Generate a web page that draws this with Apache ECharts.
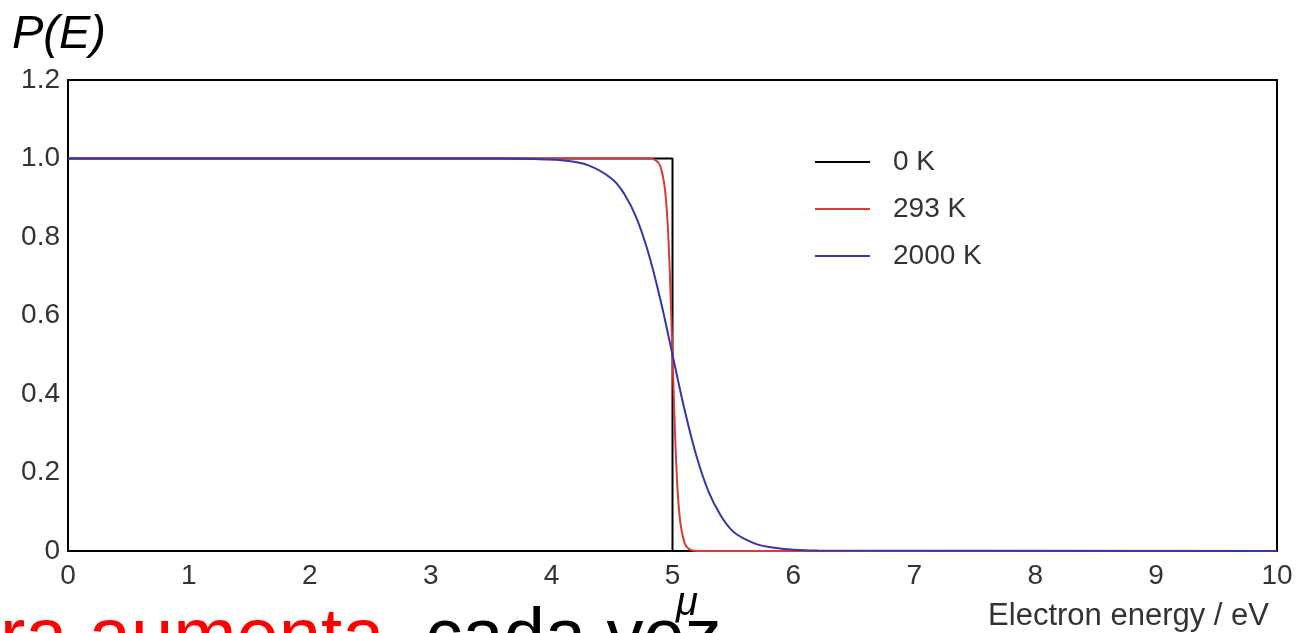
<!DOCTYPE html>
<html>
<head>
<meta charset="utf-8">
<script src="https://cdn.jsdelivr.net/npm/echarts@6/dist/echarts.min.js"></script>
<style>
  html, body { margin: 0; padding: 0; background: #fff; }
  #main { width: 1299px; height: 633px; }
</style>
</head>
<body>
<div id="main"></div>
<script>
// valores
var energy0K = [0, 5, 5, 10];
var p0K = [1, 1, 0, 0];

var energy293K = [0, 4.8, 4.86, 4.9, 4.94, 4.97, 5.0, 5.03, 5.06, 5.1, 5.14, 5.2, 10];
var p293K = [1, 1, 0.996, 0.98, 0.915, 0.77, 0.5, 0.23, 0.085, 0.02, 0.004, 0, 0];

var energy2000K = [0, 3.6, 3.9, 4.1, 4.3, 4.5, 4.6, 4.7, 4.8, 4.9, 5.0, 5.1, 5.2, 5.3, 5.4, 5.5, 5.6, 5.7, 5.8, 6.0, 6.2, 10];
var p2000K = [1, 1, 0.998, 0.995, 0.983, 0.948, 0.91, 0.85, 0.76, 0.64, 0.5, 0.36, 0.24, 0.15, 0.09, 0.05, 0.03, 0.017, 0.01, 0.003, 0.001, 0];

var seriesNames = ['0 K', '293 K', '2000 K'];
var xTicks = [0, 10, 1];
var yTicks = [0, 1.2, 0.2];

function pairs(xs, ys) {
    return xs.map(function (x, i) { return [x, ys[i]]; });
}

var font = "'Liberation Sans', Arial, sans-serif";
var myChart = echarts.init(document.getElementById('main'));

option = {
    backgroundColor: '#fff',
    animation: false,
    grid: {
        left: 68, right: 22, top: 80, bottom: 82,
        show: true, borderColor: '#000', borderWidth: 2
    },
    legend: {
        orient: 'vertical',
        left: 815, top: 148, padding: 0,
        icon: 'rect',
        itemWidth: 55, itemHeight: 2, itemGap: 19,
        data: seriesNames,
        textStyle: { fontFamily: font, fontSize: 28, color: '#333', padding: [0, 0, 0, 18] }
    },
    xAxis: {
        type: 'value',
        min: xTicks[0], max: xTicks[1], interval: xTicks[2],
        axisLine: { lineStyle: { color: '#000', width: 2 } },
        axisTick: { show: false },
        splitLine: { show: false },
        axisLabel: { fontFamily: font, fontSize: 28, color: '#333', margin: 11 }
    },
    yAxis: {
        type: 'value',
        min: yTicks[0], max: yTicks[1], interval: yTicks[2],
        axisLine: { show: true, lineStyle: { color: '#000', width: 2 } },
        axisTick: { show: false },
        splitLine: { show: false },
        axisLabel: {
            fontFamily: font, fontSize: 28, color: '#333', margin: 8,
            formatter: function (v) { return v === 0 ? '0' : v.toFixed(1); }
        }
    },
    series: [
        {
            name: seriesNames[0], type: 'line', symbol: 'none',
            lineStyle: { color: '#000', width: 2 }, itemStyle: { color: '#000' },
            data: pairs(energy0K, p0K)
        },
        {
            name: seriesNames[1], type: 'line', symbol: 'none',
            smooth: 0.4,
            lineStyle: { color: '#d93a3a', width: 2 }, itemStyle: { color: '#d93a3a' },
            data: pairs(energy293K, p293K)
        },
        {
            name: seriesNames[2], type: 'line', symbol: 'none',
            smooth: 0.4,
            lineStyle: { color: '#3535b0', width: 2 }, itemStyle: { color: '#3535b0' },
            data: pairs(energy2000K, p2000K)
        }
    ],
    graphic: [
        {
            type: 'text', left: 12, top: 11,
            style: { text: 'P(E)', font: 'italic 47px ' + font, fill: '#000' }
        },
        {
            type: 'text', x: 687, y: 604,
            style: { text: 'μ', font: 'italic 40px ' + font, fill: '#000', align: 'center', verticalAlign: 'middle' }
        },
        {
            type: 'text', x: 1269, y: 616,
            style: { text: 'Electron energy / eV', font: '31px ' + font, fill: '#333', align: 'right', verticalAlign: 'middle' }
        },
        {
            type: 'text', x: 0, y: 640,
            z: -1,
            style: {
                text: '{r|ra aumenta}{k|, cada vez}',
                verticalAlign: 'middle',
                rich: {
                    r: { fontFamily: font, fontSize: 76, fill: '#ff0000' },
                    k: { fontFamily: font, fontSize: 74, fill: '#000' }
                }
            }
        }
    ]
};
myChart.setOption(option);
</script>
</body>
</html>
